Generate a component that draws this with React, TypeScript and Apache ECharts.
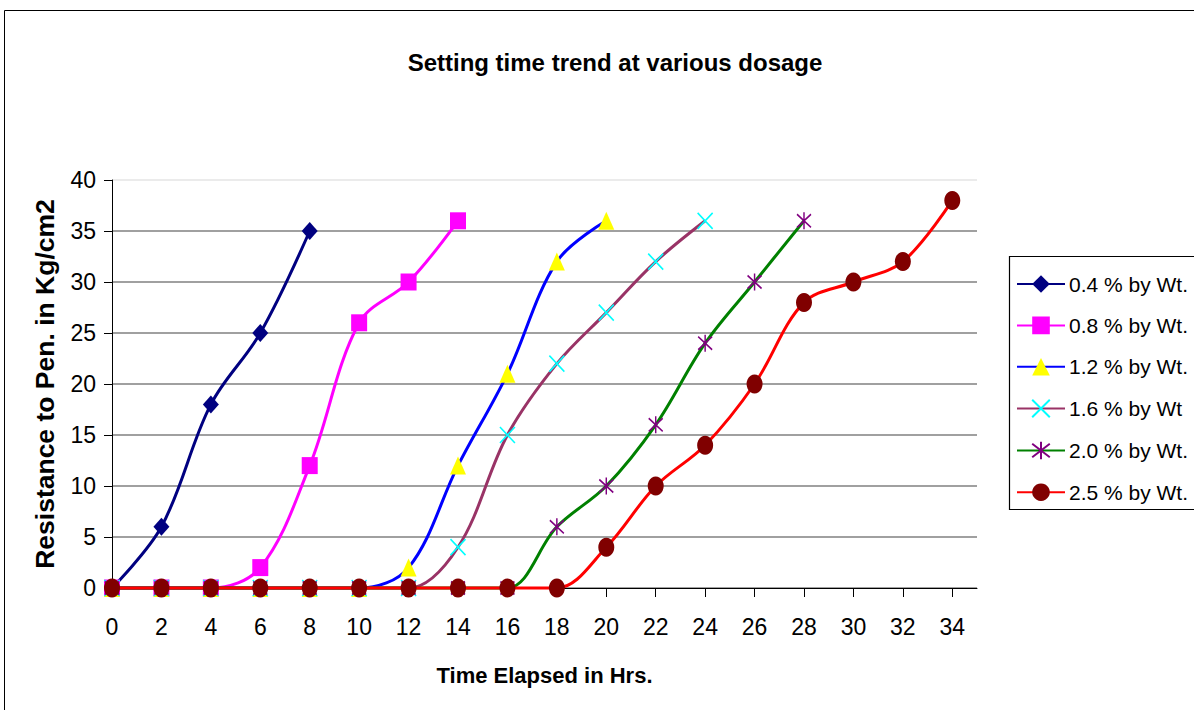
import React, { useEffect, useRef } from "react";
import * as echarts from "echarts";

const hours = [0, 2, 4, 6, 8, 10, 12, 14, 16, 18, 20, 22, 24, 26, 28, 30, 32, 34];
const xTickLabels = hours;
const yTicks = [0, 5, 10, 15, 20, 25, 30, 35, 40];

const seriesNames = [
  "0.4 % by Wt.",
  "0.8 % by Wt.",
  "1.2 % by Wt.",
  "1.6 % by Wt",
  "2.0 % by Wt.",
  "2.5 % by Wt.",
];
const s04 = [0, 6, 18, 25, 35];
const s08 = [0, 0, 0, 2, 12, 26, 30, 36];
const s12 = [0, 0, 0, 0, 0, 0, 2, 12, 21, 32, 36];
const s16 = [0, 0, 0, 0, 0, 0, 0, 4, 15, 22, 27, 32, 36];
const s20 = [0, 0, 0, 0, 0, 0, 0, 0, 0, 6, 10, 16, 24, 30, 36];
const s25 = [0, 0, 0, 0, 0, 0, 0, 0, 0, 0, 4, 10, 14, 20, 28, 30, 32, 38];

const FONT = "'Liberation Sans', Arial, sans-serif";

const CROSS = "path://M0,0L10,10M10,0L0,10";
const STAR = "path://M0,0L10,10M10,0L0,10M5,-1.5L5,11.5";

export default function App() {
  const ref = useRef<HTMLDivElement>(null);
  useEffect(() => {
    if (!ref.current) return;
    const chart = echarts.init(ref.current, undefined, { renderer: "svg" });
    const pairs = (vals: number[]) => vals.map((v, i) => [hours[i], v]);
    const styles = [
      { line: "#000080", symbol: "diamond", size: [16, 18], item: { color: "#000080" } },
      { line: "#FF00FF", symbol: "rect", size: [16, 17], item: { color: "#FF00FF" } },
      { line: "#0000FF", symbol: "triangle", size: [16, 18], item: { color: "#FFFF00" } },
      { line: "#993366", symbol: CROSS, size: [15, 16], item: { color: "none", borderColor: "#00FFFF", borderWidth: 1.6 } },
      { line: "#008000", symbol: STAR, size: [14, 17], item: { color: "none", borderColor: "#800080", borderWidth: 1.6 } },
      { line: "#FF0000", symbol: "circle", size: [16, 19], item: { color: "#800000" } },
    ];
    const all = [s04, s08, s12, s16, s20, s25];
    const series = all.map((vals, i) => ({
      name: seriesNames[i],
      type: "line",
      data: pairs(vals),
      smooth: 0.35,
      symbol: styles[i].symbol,
      symbolSize: styles[i].size,
      showAllSymbol: true,
      lineStyle: { color: styles[i].line, width: 3 },
      itemStyle: styles[i].item,
      z: 2 + i,
      clip: false,
    }));
    const splitColors = yTicks.map((_, i) => (i === yTicks.length - 1 ? "#e4e4e4" : "#808080"));
    chart.setOption({
      animation: false,
      backgroundColor: "#fff",
      textStyle: { fontFamily: FONT },
      title: {
        text: "Setting time trend at various dosage",
        left: 610,
        textAlign: "center",
        top: 45,
        textStyle: { fontFamily: FONT, fontSize: 24, fontWeight: "bold", color: "#000" },
      },
      grid: { left: 112, top: 180, right: 217, bottom: 122, containLabel: false },
      xAxis: {
        type: "value",
        min: 0,
        max: 35,
        interval: 2,
        name: "Time Elapsed in Hrs.",
        nameLocation: "middle",
        nameGap: 76,
        nameTextStyle: { fontFamily: FONT, fontSize: 22, fontWeight: "bold", color: "#000" },
        axisLine: { show: true, onZero: false, lineStyle: { color: "#000", width: 1 } },
        axisTick: { show: true, length: 9, customValues: xTickLabels, lineStyle: { color: "#000" } },
        axisLabel: { customValues: xTickLabels, fontFamily: FONT, fontSize: 23, color: "#000", margin: 27 },
        splitLine: { show: false },
      },
      yAxis: {
        type: "value",
        min: 0,
        max: 40,
        interval: 5,
        name: "Resistance to Pen. in Kg/cm2",
        nameLocation: "middle",
        nameGap: 54,
        nameRotate: 90,
        nameTextStyle: { fontFamily: FONT, fontSize: 26.5, fontWeight: "bold", color: "#000" },
        axisLine: { show: true, lineStyle: { color: "#000", width: 1 } },
        axisTick: { show: true, length: 8, lineStyle: { color: "#000" } },
        axisLabel: { fontFamily: FONT, fontSize: 23, color: "#000", margin: 16 },
        splitLine: { show: true, lineStyle: { color: splitColors, width: 1.5 } },
      },
      legend: {
        orient: "vertical",
        left: 1011,
        top: 268,
        itemWidth: 48,
        itemHeight: 22,
        itemGap: 19.4,
        itemGap2: 0,
        textStyle: { fontFamily: FONT, fontSize: 21, color: "#000", lineHeight: 22, padding: [0, 0, 0, -1] },
        data: seriesNames,
      },
      graphic: [
        {
          type: "rect",
          shape: { x: 4.5, y: 10.5, width: 1300, height: 800 },
          style: { fill: "none", stroke: "#000", lineWidth: 1 },
          silent: true,
          z: -10,
        },
        {
          type: "rect",
          shape: { x: 1009.5, y: 256.5, width: 300, height: 253 },
          style: { fill: "none", stroke: "#000", lineWidth: 1.2 },
          silent: true,
        },
      ],
      series,
    });
    return () => chart.dispose();
  }, []);
  return (
    <div
      ref={ref}
      style={{ position: "fixed", left: 0, top: 0, width: 1194, height: 710, background: "#fff" }}
    />
  );
}
